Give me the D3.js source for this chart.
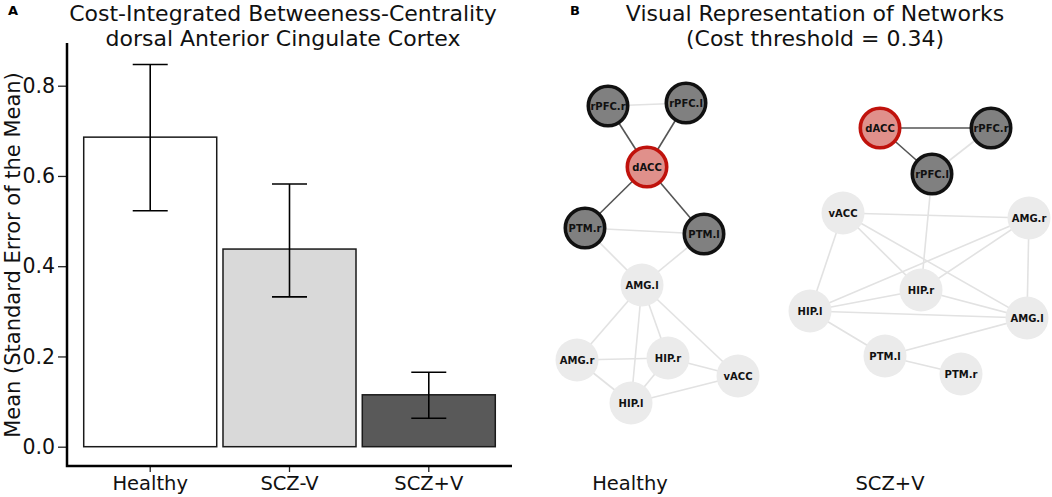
<html>
<head>
  <script src="https://d3js.org/d3.v7.min.js"></script>
  <style>
    body { margin: 0; background: #fff; }
    text { font-family: "DejaVu Sans", Verdana, sans-serif; }
    .node-label { font-size: 10px; font-weight: bold; fill: #111; }
  </style>
</head>
<body>
  <svg id="fig" width="1052" height="497"></svg>

  <script>
    // ---- panel A data ----
    const groups = ["Healthy", "SCZ-V", "SCZ+V"];
    const means = [0.686, 0.438, 0.115];
    const errHigh = [0.847, 0.582, 0.165];
    const errLow = [0.523, 0.332, 0.063];
    const barFills = ["#ffffff", "#d9d9d9", "#595959"];
    const yTicks = [0.0, 0.2, 0.4, 0.6, 0.8];

    // ---- panel B data ----
    const healthyNodes = [
      { id: "rPFC.r", x: 608, y: 106, type: "core" },
      { id: "rPFC.l", x: 686, y: 103, type: "core" },
      { id: "dACC", x: 647, y: 167, type: "seed" },
      { id: "PTM.r", x: 585, y: 228, type: "core" },
      { id: "PTM.l", x: 704, y: 234, type: "core" },
      { id: "AMG.l", x: 642, y: 285, type: "other" },
      { id: "AMG.r", x: 577, y: 360, type: "other" },
      { id: "HIP.r", x: 668, y: 358, type: "other" },
      { id: "vACC", x: 738, y: 376, type: "other" },
      { id: "HIP.l", x: 631, y: 403, type: "other" }
    ];
    const healthyEdges = [
      ["rPFC.r", "rPFC.l"], ["rPFC.r", "dACC"], ["rPFC.l", "dACC"],
      ["dACC", "PTM.r"], ["dACC", "PTM.l"], ["PTM.r", "PTM.l"],
      ["PTM.r", "AMG.l"], ["PTM.l", "AMG.l"], ["AMG.l", "AMG.r"],
      ["AMG.l", "HIP.l"], ["AMG.l", "HIP.r"], ["AMG.l", "vACC"],
      ["AMG.r", "HIP.r"], ["AMG.r", "HIP.l"], ["HIP.r", "HIP.l"],
      ["HIP.r", "vACC"], ["HIP.l", "vACC"]
    ];

    const sczNodes = [
      { id: "dACC", x: 880, y: 128, type: "seed" },
      { id: "rPFC.r", x: 991, y: 128, type: "core" },
      { id: "rPFC.l", x: 932, y: 174, type: "core" },
      { id: "vACC", x: 843, y: 213, type: "other" },
      { id: "AMG.r", x: 1029, y: 218, type: "other" },
      { id: "HIP.r", x: 921, y: 290, type: "other" },
      { id: "HIP.l", x: 810, y: 311, type: "other" },
      { id: "AMG.l", x: 1027, y: 318, type: "other" },
      { id: "PTM.l", x: 885, y: 356, type: "other" },
      { id: "PTM.r", x: 961, y: 374, type: "other" }
    ];
    const sczEdges = [
      ["dACC", "rPFC.r"], ["dACC", "rPFC.l"], ["rPFC.l", "rPFC.r"],
      ["rPFC.l", "HIP.r"], ["vACC", "AMG.r"], ["vACC", "HIP.l"],
      ["vACC", "HIP.r"], ["vACC", "AMG.l"], ["AMG.r", "HIP.l"],
      ["AMG.r", "HIP.r"], ["AMG.r", "AMG.l"], ["HIP.l", "HIP.r"],
      ["HIP.l", "AMG.l"], ["HIP.l", "PTM.l"], ["HIP.r", "AMG.l"],
      ["AMG.l", "PTM.l"], ["PTM.l", "PTM.r"]
    ];

    const svg = d3.select("#fig");

    // ================= Panel A =================
    const plot = { left: 67, right: 512, top: 43, bottom: 466 };

    const x = d3.scaleBand()
      .domain(groups)
      .range([plot.left, plot.right])
      .paddingInner(0.045)
      .paddingOuter(0.12);

    const y = d3.scaleLinear()
      .domain([0, 0.8])
      .range([446.7, 85.7]);

    const gA = svg.append("g");

    // bars
    gA.selectAll(".bar")
      .data(groups)
      .join("rect")
      .attr("class", "bar")
      .attr("x", d => x(d))
      .attr("width", x.bandwidth())
      .attr("y", (d, i) => y(means[i]))
      .attr("height", (d, i) => y(0) - y(means[i]))
      .attr("fill", (d, i) => barFills[i])
      .attr("stroke", "#1a1a1a")
      .attr("stroke-width", 1.5);

    // error bars
    const capW = 35;
    const eb = gA.selectAll(".err")
      .data(groups)
      .join("g")
      .attr("class", "err")
      .attr("stroke", "#000")
      .attr("stroke-width", 1.6);
    eb.append("line")
      .attr("x1", d => x(d) + x.bandwidth() / 2)
      .attr("x2", d => x(d) + x.bandwidth() / 2)
      .attr("y1", (d, i) => y(errLow[i]))
      .attr("y2", (d, i) => y(errHigh[i]));
    eb.append("line")
      .attr("x1", d => x(d) + x.bandwidth() / 2 - capW / 2)
      .attr("x2", d => x(d) + x.bandwidth() / 2 + capW / 2)
      .attr("y1", (d, i) => y(errHigh[i]))
      .attr("y2", (d, i) => y(errHigh[i]));
    eb.append("line")
      .attr("x1", d => x(d) + x.bandwidth() / 2 - capW / 2)
      .attr("x2", d => x(d) + x.bandwidth() / 2 + capW / 2)
      .attr("y1", (d, i) => y(errLow[i]))
      .attr("y2", (d, i) => y(errLow[i]));

    // y axis
    const yAxis = gA.append("g")
      .attr("transform", "translate(" + plot.left + ",0)")
      .call(d3.axisLeft(y).tickValues(yTicks).tickFormat(d3.format(".1f")).tickSize(9).tickPadding(3));
    yAxis.select(".domain").remove();
    yAxis.selectAll(".tick line").attr("stroke", "#222").attr("stroke-width", 1.3);
    yAxis.selectAll(".tick text")
      .style("font-size", "20.5px")
      .attr("fill", "#111")
      .attr("font-family", "DejaVu Sans, sans-serif");

    // x axis
    const xAxis = gA.append("g")
      .attr("transform", "translate(0," + plot.bottom + ")")
      .call(d3.axisBottom(x).tickSize(6).tickPadding(4));
    xAxis.select(".domain").remove();
    xAxis.selectAll(".tick line").attr("stroke", "#222").attr("stroke-width", 1.3);
    xAxis.selectAll(".tick text")
      .style("font-size", "19.5px")
      .attr("fill", "#111")
      .attr("font-family", "DejaVu Sans, sans-serif");

    // axis lines (L-shape)
    gA.append("path")
      .attr("d", "M" + plot.left + "," + plot.top + "V" + plot.bottom + "H" + plot.right)
      .attr("fill", "none")
      .attr("stroke", "#000")
      .attr("stroke-width", 2.5);

    // y label
    gA.append("text")
      .attr("transform", "translate(20,255) rotate(-90)")
      .attr("text-anchor", "middle")
      .style("font-size", "21px")
      .attr("fill", "#111")
      .text("Mean (Standard Error of the Mean)");

    // titles
    gA.append("text").attr("x", 8).attr("y", 15)
      .style("font-size", "13px").style("font-weight", "bold").text("A");
    gA.append("text").attr("x", 283).attr("y", 20.5)
      .attr("text-anchor", "middle").style("font-size", "22px").attr("fill", "#111")
      .text("Cost-Integrated Betweeness-Centrality");
    gA.append("text").attr("x", 283).attr("y", 46)
      .attr("text-anchor", "middle").style("font-size", "22px").attr("fill", "#111")
      .text("dorsal Anterior Cingulate Cortex");

    // ================= Panel B =================
    const gB = svg.append("g");
    gB.append("text").attr("x", 570).attr("y", 15)
      .style("font-size", "13px").style("font-weight", "bold").text("B");
    gB.append("text").attr("x", 815).attr("y", 20.5)
      .attr("text-anchor", "middle").style("font-size", "22px").attr("fill", "#111")
      .text("Visual Representation of Networks");
    gB.append("text").attr("x", 815).attr("y", 46)
      .attr("text-anchor", "middle").style("font-size", "22px").attr("fill", "#111")
      .text("(Cost threshold = 0.34)");

    const nodeR = 21.5;
    const fillByType = { seed: "#e0908b", core: "#808080", other: "#ebebeb" };
    const strokeByType = { seed: "#c0120c", core: "#111111", other: "none" };

    function drawNetwork(nodes, edges, label, labelX) {
      const byId = new Map(nodes.map(n => [n.id, n]));
      const g = gB.append("g");
      const strong = e => {
        const a = byId.get(e[0]).type, b = byId.get(e[1]).type;
        return a !== "other" && b !== "other" && (a === "seed" || b === "seed");
      };
      // light edges first, dark on top
      const sorted = edges.slice().sort((a, b) => strong(a) - strong(b));
      g.selectAll("line")
        .data(sorted)
        .join("line")
        .attr("x1", e => byId.get(e[0]).x)
        .attr("y1", e => byId.get(e[0]).y)
        .attr("x2", e => byId.get(e[1]).x)
        .attr("y2", e => byId.get(e[1]).y)
        .attr("stroke", e => strong(e) ? "#555555" : "#e2e2e2")
        .attr("stroke-width", 1.6);

      const ng = g.selectAll(".node")
        .data(nodes)
        .join("g")
        .attr("class", "node")
        .attr("transform", d => "translate(" + d.x + "," + d.y + ")");
      ng.append("circle")
        .attr("r", d => d.type === "other" ? nodeR : nodeR - 1.8)
        .attr("fill", d => fillByType[d.type])
        .attr("stroke", d => strokeByType[d.type])
        .attr("stroke-width", 3.6);
      ng.append("text")
        .attr("class", "node-label")
        .attr("text-anchor", "middle")
        .attr("dy", "0.35em")
        .text(d => d.id);

      gB.append("text").attr("x", labelX).attr("y", 490)
        .attr("text-anchor", "middle").style("font-size", "19.5px").attr("fill", "#111")
        .text(label);
    }

    drawNetwork(healthyNodes, healthyEdges, "Healthy", 630);
    drawNetwork(sczNodes, sczEdges, "SCZ+V", 890);
  </script>
</body>
</html>
